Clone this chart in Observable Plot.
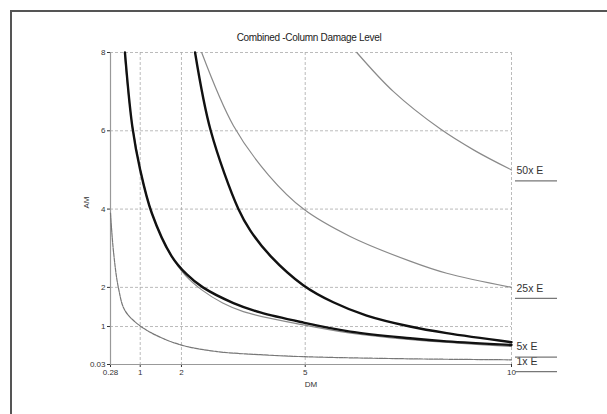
<!DOCTYPE html>
<html>
<head>
<meta charset="utf-8">
<script src="https://cdn.jsdelivr.net/npm/d3@7"></script>
<script src="https://cdn.jsdelivr.net/npm/@observablehq/plot@0.6"></script>
<style>
  body { margin: 0; background: #fff; font-family: "Liberation Sans", Arial, sans-serif; }
  #wrap { position: relative; width: 607px; height: 414px; overflow: hidden; }
  #frame { position: absolute; left: 10px; top: 10px; width: 700px; height: 500px;
           border-left: 2px solid #555; border-top: 2px solid #555; }
  #title { position: absolute; left: 0; width: 618px; top: 32px; text-align: center;
           font-size: 10px; color: #222; letter-spacing: -0.3px; }
  #chart { position: absolute; left: 0; top: 0; }
</style>
</head>
<body>
<div id="wrap">
  <div id="frame"></div>
  <div id="title">Combined -Column Damage Level</div>
  <div id="chart"></div>
</div>
<script>
// Tick values and labels
const xTicks = [0.28, 1, 2, 5, 10];
const yTicks = [0.03, 1, 2, 4, 6, 8];
const xGrid = [1, 2, 5, 10];
const yGrid = [1, 2, 4, 6, 8];

// Curves (DM, AM)
const dm50 = [6.25, 7.14, 8.27, 9.1, 10];
const am50 = [8, 7.0, 6.05, 5.5, 5.0];

const dm25 = [2.49, 3.26, 4.11, 4.96, 6.09, 7.54, 8.43, 10];
const am25 = [8, 6.13, 4.87, 4.0, 3.3, 2.67, 2.36, 2.0];

const dm5 = [0.62, 0.83, 1.25, 1.7, 2.1, 2.5, 3.0, 3.5, 4.96, 6.1, 7.5, 10];
const am5 = [8, 6, 4, 2.9, 2.3, 1.93, 1.6, 1.38, 1.04, 0.83, 0.67, 0.49];

const dm1 = [0.28, 0.35, 0.47, 0.63, 0.98, 1.48, 2.02, 2.86, 3.91, 4.96, 7.54, 10];
const am1 = [3.9, 2.94, 2.0, 1.41, 1.03, 0.73, 0.52, 0.36, 0.28, 0.23, 0.175, 0.15];

const dmBlackA = [0.63, 0.81, 1.0, 1.28, 1.76, 2.13, 2.52, 3.26, 3.91, 4.96, 6.09, 7.54, 8.43, 10];
const amBlackA = [8, 6.1, 5.0, 3.9, 2.8, 2.33, 2.0, 1.6, 1.36, 1.1, 0.87, 0.7, 0.62, 0.53];

const dmBlackB = [2.33, 2.71, 3.38, 3.67, 4.16, 4.96, 5.68, 6.49, 7.54, 8.43, 10];
const amBlackB = [8, 6, 4, 3.45, 2.8, 2.05, 1.62, 1.28, 1.0, 0.83, 0.6];

// Right-side labels
const labelText = ["50x E", "25x E", "5x E", "1x E"];
const labelAM = [5, 2, 0.5, 0.13];

const pts = (xs, ys) => xs.map((x, i) => ({x, y: ys[i]}));
const labels = labelText.map((t, i) => ({text: t, y: labelAM[i], x: xTicks[xTicks.length - 1]}));

const grey = "#8a8a8a";
const crv = "catmull-rom";

const chart = Plot.plot({
  width: 607,
  height: 414,
  marginLeft: 110,
  marginRight: 96,
  marginTop: 52,
  marginBottom: 50,
  style: { fontSize: "8px", color: "#333", background: "transparent", fontFamily: "Liberation Sans, Arial, sans-serif" },
  x: { domain: [0.28, 10], ticks: xTicks, tickFormat: d => String(d), tickSize: 3, tickPadding: 2, label: null },
  y: { domain: [0.03, 8], ticks: yTicks, tickFormat: d => String(d), tickSize: 3, tickPadding: 2, label: null },
  marks: [
    Plot.ruleX(xGrid, { stroke: "#aaa", strokeWidth: 0.8, strokeDasharray: "3,2" }),
    Plot.ruleY(yGrid, { stroke: "#aaa", strokeWidth: 0.8, strokeDasharray: "3,2" }),
    Plot.ruleX([0.28], { stroke: "#999", strokeWidth: 1.2 }),
    Plot.ruleY([0.03], { stroke: "#999", strokeWidth: 1.2 }),
    Plot.line(pts(dm50, am50), { x: "x", y: "y", stroke: grey, strokeWidth: 1.2, curve: crv }),
    Plot.line(pts(dm25, am25), { x: "x", y: "y", stroke: grey, strokeWidth: 1.2, curve: crv }),
    Plot.line(pts(dm5, am5), { x: "x", y: "y", stroke: grey, strokeWidth: 1.2, curve: crv }),
    Plot.line(pts(dm1, am1), { x: "x", y: "y", stroke: "#777", strokeWidth: 1.2, strokeDasharray: "4,1", curve: crv }),
    Plot.line(pts(dmBlackA, amBlackA), { x: "x", y: "y", stroke: "#111", strokeWidth: 2.4, curve: crv }),
    Plot.line(pts(dmBlackB, amBlackB), { x: "x", y: "y", stroke: "#111", strokeWidth: 2.4, curve: crv }),
    Plot.text(labels, { x: "x", y: "y", text: "text", textAnchor: "start", dx: 5, dy: 1, fontSize: 10.5, fill: "#333" }),
    Plot.ruleY(labels, { y: "y", x1: "x", x2: "x", insetLeft: 4, insetRight: -46, dy: 11, stroke: "#777", strokeWidth: 1.2 }),
    Plot.text(["AM"], { frameAnchor: "left", dx: -24, rotate: -90, text: d => d, fontSize: 8, fill: "#333" }),
    Plot.text(["DM"], { frameAnchor: "bottom", dy: 22, text: d => d, fontSize: 8, fill: "#333" })
  ]
});
document.getElementById("chart").appendChild(chart);
</script>
</body>
</html>
